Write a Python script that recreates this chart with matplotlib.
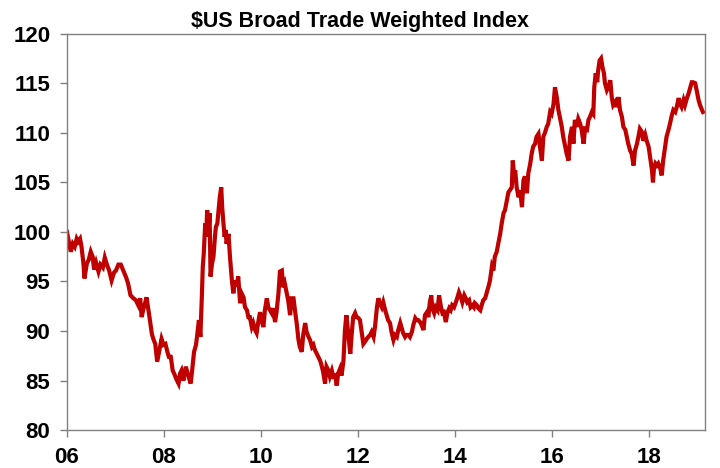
import matplotlib.pyplot as plt

# $US broad trade weighted index
# (x = fractional year, y = index level)
years = [
    2006.00, 2006.05, 2006.08, 2006.12, 2006.16, 2006.20, 2006.23, 2006.27, 2006.30, 2006.34,
    2006.36, 2006.41, 2006.45, 2006.49, 2006.53, 2006.56, 2006.60, 2006.65, 2006.69, 2006.74,
    2006.78, 2006.83, 2006.87, 2006.92, 2006.97, 2007.01, 2007.06, 2007.11, 2007.16, 2007.22,
    2007.26, 2007.31, 2007.37, 2007.42, 2007.47, 2007.51, 2007.54, 2007.57, 2007.61, 2007.64,
    2007.68, 2007.71, 2007.75, 2007.78, 2007.82, 2007.86, 2007.91, 2007.95, 2007.99, 2008.03,
    2008.07, 2008.10,
    2008.14, 2008.18, 2008.21, 2008.25, 2008.30, 2008.33, 2008.36, 2008.40, 2008.45, 2008.50,
    2008.55, 2008.58, 2008.62, 2008.66, 2008.69, 2008.72, 2008.75, 2008.78, 2008.80, 2008.82,
    2008.85, 2008.87, 2008.89, 2008.92, 2008.94, 2008.96, 2008.99, 2009.02, 2009.05, 2009.07,
    2009.10, 2009.13, 2009.15, 2009.18, 2009.20, 2009.22, 2009.25, 2009.27, 2009.29, 2009.33,
    2009.36, 2009.40, 2009.43, 2009.46, 2009.50, 2009.53, 2009.57, 2009.60, 2009.64, 2009.67,
    2009.71, 2009.74, 2009.77, 2009.81, 2009.84, 2009.88, 2009.91, 2009.94, 2009.98, 2010.01,
    2010.05, 2010.08, 2010.12, 2010.15,
    2010.22, 2010.25, 2010.29, 2010.32, 2010.36, 2010.39, 2010.43, 2010.46, 2010.49, 2010.53,
    2010.56, 2010.60, 2010.63, 2010.67, 2010.70, 2010.74, 2010.77, 2010.80, 2010.84, 2010.87,
    2010.91, 2010.94, 2010.98, 2011.01, 2011.05, 2011.08, 2011.11, 2011.15, 2011.18, 2011.22,
    2011.25, 2011.28, 2011.32, 2011.35, 2011.39, 2011.42, 2011.46, 2011.49, 2011.53, 2011.56,
    2011.59, 2011.63, 2011.66, 2011.70, 2011.73, 2011.76, 2011.79, 2011.81, 2011.84, 2011.87,
    2011.90, 2011.94, 2011.97, 2012.01, 2012.04, 2012.08, 2012.11, 2012.14, 2012.18, 2012.21,
    2012.25, 2012.28, 2012.32, 2012.35, 2012.39, 2012.42, 2012.45, 2012.49, 2012.52, 2012.56,
    2012.59, 2012.62, 2012.66, 2012.69, 2012.73, 2012.76, 2012.80, 2012.83, 2012.87, 2012.90,
    2012.93, 2012.97, 2013.00, 2013.04, 2013.07, 2013.11, 2013.14, 2013.18, 2013.21, 2013.24,
    2013.28, 2013.31, 2013.35, 2013.38, 2013.42, 2013.45, 2013.48, 2013.51, 2013.53, 2013.57,
    2013.60, 2013.64, 2013.67, 2013.71, 2013.74, 2013.77, 2013.81, 2013.84, 2013.88, 2013.91,
    2013.94, 2013.98, 2014.01, 2014.05, 2014.08, 2014.12, 2014.15, 2014.19, 2014.22, 2014.25,
    2014.29, 2014.32, 2014.36, 2014.39,
    2014.41, 2014.45, 2014.48, 2014.52, 2014.55, 2014.58, 2014.62, 2014.65, 2014.69, 2014.72,
    2014.76, 2014.79, 2014.82, 2014.86, 2014.89, 2014.93, 2014.96, 2015.00, 2015.03, 2015.07,
    2015.10, 2015.13, 2015.17, 2015.19, 2015.22, 2015.24, 2015.27, 2015.31, 2015.34, 2015.38,
    2015.41, 2015.44, 2015.48, 2015.51, 2015.55, 2015.58, 2015.61, 2015.65, 2015.68, 2015.72,
    2015.75, 2015.79, 2015.82, 2015.86, 2015.89, 2015.92, 2015.96, 2015.99, 2016.03, 2016.06,
    2016.10, 2016.13, 2016.16, 2016.20, 2016.23, 2016.27, 2016.30, 2016.34,
    2016.37, 2016.41, 2016.44, 2016.47, 2016.51, 2016.54, 2016.58, 2016.61, 2016.65, 2016.68,
    2016.72, 2016.75, 2016.78, 2016.82, 2016.85, 2016.87, 2016.90, 2016.93, 2016.95, 2016.98,
    2017.01, 2017.04, 2017.07, 2017.09, 2017.13, 2017.16, 2017.20, 2017.23, 2017.26, 2017.30,
    2017.33, 2017.37, 2017.40, 2017.44, 2017.47, 2017.51, 2017.54, 2017.57, 2017.61, 2017.64,
    2017.68, 2017.71, 2017.75, 2017.78, 2017.81, 2017.85, 2017.88, 2017.92, 2017.95, 2017.99,
    2018.02, 2018.06, 2018.08, 2018.10, 2018.13, 2018.16, 2018.19, 2018.23, 2018.26, 2018.29,
    2018.33, 2018.36, 2018.40, 2018.43, 2018.47, 2018.50, 2018.54, 2018.57, 2018.61, 2018.64,
    2018.67, 2018.71, 2018.74, 2018.78, 2018.81, 2018.85, 2018.88, 2018.91, 2018.95, 2018.98,
    2019.02, 2019.05, 2019.09, 2019.11,
]
index_values = [
    100.0, 98.7, 98.0, 98.8, 98.5, 99.3, 99.0, 99.3, 98.5, 96.8,
    95.3, 96.8, 97.2, 98.0, 97.5, 96.2, 96.9, 96.0, 96.7, 96.4,
    97.4, 96.6, 96.1, 95.1, 95.9, 96.1, 96.7, 96.7, 96.1, 95.4,
    94.8, 93.6, 93.3, 93.1, 92.6, 93.3, 91.4, 92.1, 92.8, 93.4,
    92.1, 91.1, 89.7, 89.2, 88.7, 86.9, 88.2, 89.2, 88.6, 88.7,
    87.9, 87.4,
    87.4, 86.0, 85.7, 85.2, 84.7, 85.7, 86.0, 85.0, 86.4, 85.5,
    84.7, 86.0, 87.9, 88.6, 89.8, 91.1, 89.4, 93.4, 96.5, 97.8,
    100.85, 99.5, 102.2, 100.2, 101.9, 95.5, 96.8, 97.5, 99.5, 100.5,
    100.85, 102.5, 103.5, 104.5, 102.5, 101.2, 99.5, 100.2, 98.8, 99.8,
    97.5, 95.1, 93.8, 95.1, 94.5, 95.5, 92.8, 93.8, 93.4, 92.4,
    92.1, 91.4, 91.4, 90.4, 90.8, 90.1, 89.8, 90.8, 91.9, 91.1,
    90.4, 92.1, 93.3, 92.4,
    91.8, 92.3, 90.9, 91.9, 93.8, 96.0, 96.1, 94.4, 94.8, 93.8,
    93.1, 91.6, 93.3, 93.3, 92.1, 90.6, 89.2, 88.4, 87.9, 89.6,
    90.8, 89.9, 89.4, 89.1, 88.4, 88.6, 88.1, 87.7, 87.4, 87.0,
    86.5, 85.9, 84.7, 86.4, 86.0, 85.4, 86.0, 85.4, 85.5, 84.5,
    85.7, 86.2, 85.5, 87.0, 90.1, 91.6, 90.1, 89.1, 87.7, 89.7,
    91.4, 91.8, 91.4, 91.3, 91.1, 89.7, 88.7, 88.9, 89.2, 89.4,
    89.6, 89.9, 89.4, 90.4, 92.4, 93.3, 92.8, 92.4, 92.9, 92.1,
    91.6, 91.1, 90.8, 89.9, 89.1, 89.6, 89.4, 90.1, 90.8, 90.3,
    89.8, 89.4, 89.6, 89.6, 89.4, 89.9, 90.6, 91.3, 91.1, 91.1,
    90.9, 90.6, 90.1, 91.6, 91.9, 91.4, 92.9, 93.6, 92.3, 91.8,
    92.4, 92.1, 93.6, 92.4, 91.8, 91.9, 90.9, 91.8, 92.3, 92.1,
    92.6, 92.4, 92.8, 93.4, 93.9, 93.4, 92.9, 93.6, 93.3, 92.9,
    93.1, 92.4, 92.6, 92.4,
    92.8, 92.6, 92.3, 92.1, 92.6, 93.1, 93.3, 93.8, 94.5, 95.1,
    96.5, 96.1, 97.5, 98.0, 98.8, 99.8, 100.8, 101.9, 102.2, 103.2,
    104.0, 104.2, 104.5, 107.2, 105.6, 106.2, 104.5, 103.5, 104.2, 102.5,
    105.2, 105.6, 103.9, 105.9, 106.9, 107.9, 108.6, 108.9, 109.6, 109.9,
    108.6, 107.2, 109.6, 110.1, 110.6, 110.9, 112.1, 111.9, 112.9, 114.6,
    113.5, 112.3, 111.6, 110.6, 109.6, 108.6, 107.9, 107.2,
    109.6, 110.6, 108.9, 111.3, 110.6, 111.4, 110.9, 110.3, 108.9, 110.4,
    110.3, 111.3, 111.6, 112.1, 111.9, 114.6, 116.0, 115.1, 116.3, 117.3,
    117.5, 116.6, 116.0, 115.0, 114.3, 114.6, 115.3, 113.6, 112.8, 113.1,
    112.6, 113.6, 112.3, 111.6, 110.6, 110.3, 109.6, 108.9, 108.2, 107.9,
    106.7, 108.2, 108.9, 109.6, 110.4, 110.1, 109.2, 109.8, 109.2, 108.6,
    107.6, 106.2, 105.0, 106.4, 106.9, 106.7, 106.9, 106.4, 105.7, 107.2,
    108.6, 109.6, 110.3, 110.9, 111.8, 112.3, 112.1, 112.6, 113.5, 112.9,
    112.6, 113.3, 112.8, 113.5, 113.9, 114.6, 115.1, 115.1, 115.0, 114.3,
    113.3, 112.8, 112.3, 112.1,
]

tick_years = [2006, 2008, 2010, 2012, 2014, 2016, 2018]
tick_labels = ['06', '08', '10', '12', '14', '16', '18']
y_ticks = [80, 85, 90, 95, 100, 105, 110, 115, 120]

plt.rcParams['font.family'] = ['Liberation Sans', 'DejaVu Sans']

fig = plt.figure(figsize=(7.2, 4.68), dpi=100)
ax = fig.add_axes([0.093, 0.081, 0.886, 0.847])

ax.plot(years, index_values, color='#C00000', linewidth=3.0, solid_joinstyle='miter')

ax.set_xlim(2006, 2019.15)
ax.set_ylim(80, 120)
ax.set_xticks(tick_years)
ax.set_xticklabels(tick_labels)
ax.set_yticks(y_ticks)

for side in ['left', 'right', 'top', 'bottom']:
    ax.spines[side].set_color('#808080')
    ax.spines[side].set_linewidth(1.0)

ax.tick_params(axis='both', direction='out', length=5, width=1, color='#808080',
               labelsize=16, pad=7)
for lbl in ax.get_xticklabels() + ax.get_yticklabels():
    lbl.set_fontweight('bold')

fig.text(0.5, 0.955, '$US Broad Trade Weighted Index', ha='center', va='center',
         fontsize=15.5, fontweight='bold')

fig.savefig('out.png', dpi=100)
